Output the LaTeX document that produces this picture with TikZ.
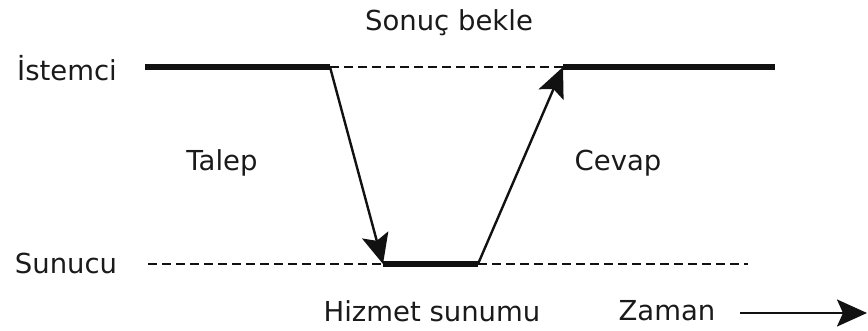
\documentclass[tikz,border=0pt]{standalone}
\usepackage{fontspec}
\setmainfont{DejaVu Sans}
\usetikzlibrary{arrows.meta}
\definecolor{ink}{HTML}{111111}
\definecolor{labelgrey}{HTML}{1A1A1A}

\tikzset{
  busy/.style={ink, line width=6pt},
  idle/.style={ink, line width=2.4pt, dash pattern=on 9pt off 5pt},
  msg/.style={ink, line width=2.4pt, -{Stealth[length=30pt, width=27pt, inset=6pt]}},
  lbl/.style={text=labelgrey, font=\fontsize{27.5}{32}\selectfont, inner sep=0pt}
}

\begin{document}
\begin{tikzpicture}[x=1pt, y=-1pt]
      \useasboundingbox (0,0) rectangle (868,331);
      % time lines
      \coordinate (c0) at (145,67);
      \coordinate (c1) at (330,67);
      \coordinate (c2) at (563,67);
      \coordinate (c3) at (775,67);
      \coordinate (s0) at (148,264);
      \coordinate (s1) at (383,264);
      \coordinate (s2) at (478,264);
      \coordinate (s3) at (748,264);
      \coordinate (t0) at (740,313);
      \coordinate (t1) at (867,313);
      % labels
      \node[lbl] (istemci) at (67,68) {İstemci};
      \node[lbl] (sunucu) at (66,263) {Sunucu};
      \node[lbl] (bekle) at (449,23) {Sonuç bekle};
      \node[lbl] (talep) at (222,163) {Talep};
      \node[lbl] (cevap) at (618,163) {Cevap};
      \node[lbl] (hizmet) at (432,311) {Hizmet sunumu};
      \node[lbl] (zaman) at (667,311) {Zaman};
      % client
      \draw[busy] (c0) -- (c1);
      \draw[idle] (c1) -- (c2);
      \draw[busy] (c2) -- (c3);
      % server
      \draw[idle] (s0) -- (s1);
      \draw[busy] (s1) -- (s2);
      \draw[idle] (s2) -- (s3);
      % messages
      \draw[msg] (c1) -- (s1);
      \draw[msg] (s2) -- (c2);
      \draw[msg] (t0) -- (t1);
    \end{tikzpicture}
\end{document}
